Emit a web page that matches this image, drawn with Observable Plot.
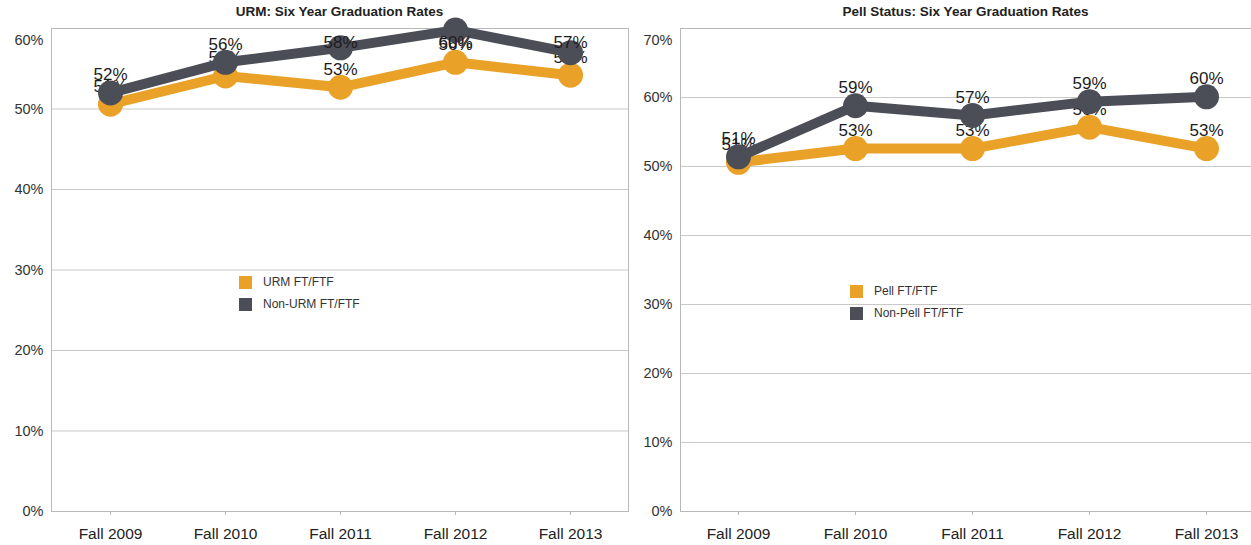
<!DOCTYPE html>
<html>
<head>
<meta charset="utf-8">
<script src="https://cdn.jsdelivr.net/npm/d3@7"></script>
<script src="https://cdn.jsdelivr.net/npm/@observablehq/plot@0.6"></script>
<style>
  html, body { margin: 0; padding: 0; background: #fff; }
  body { width: 1251px; height: 545px; overflow: hidden; position: relative; font-family: "Liberation Sans", Arial, Helvetica, sans-serif; }
  .panel { position: absolute; top: 0; }
  .title { position: absolute; top: 4px; font-weight: bold; font-size: 13.5px; color: #222; white-space: nowrap; transform: translateX(-50%); }
  .legend { position: absolute; font-size: 12px; color: #333; }
  .legend .item { display: flex; align-items: center; height: 22px; }
  .legend .sw { width: 13px; height: 13px; margin-right: 11px; flex: none; }
</style>
</head>
<body>
<script>
// ---------- data ----------
const years = ["Fall 2009", "Fall 2010", "Fall 2011", "Fall 2012", "Fall 2013"];

const urmTitle = "URM: Six Year Graduation Rates";
const urmNames = ["URM FT/FTF", "Non-URM FT/FTF"];
const urmValues = [50.6, 54.1, 52.7, 55.8, 54.2];
const nonUrmValues = [52.0, 55.8, 57.6, 59.8, 57.0];
const urmTicks = [0, 10, 20, 30, 40, 50, 60];

const pellTitle = "Pell Status: Six Year Graduation Rates";
const pellNames = ["Pell FT/FTF", "Non-Pell FT/FTF"];
const pellValues = [50.6, 52.6, 52.6, 55.7, 52.6];
const nonPellValues = [51.4, 58.8, 57.4, 59.4, 60.1];
const pellTicks = [0, 10, 20, 30, 40, 50, 60, 70];

const colors = ["#E9A128", "#4B4D57"];

// ---------- drawing ----------
const FONT = `"Liberation Sans", Arial, Helvetica, sans-serif`;

function rows(names, valueLists) {
  return names.map((name, s) => years.map((year, i) => ({series: name, idx: s, year, value: valueLists[s][i]})));
}

function panel(opts) {
  const {names, values, ticks, labelMax, left, width, marginLeft, marginRight, xPadding, xAlign, fullFrame, title, legendPos} = opts;
  const yMax = ticks[ticks.length - 1];
  const series = rows(names, values);
  const marks = [
    Plot.gridY(ticks, {stroke: "#c9c9c9", strokeOpacity: 1}),
  ];
  if (fullFrame) {
    marks.push(Plot.frame({stroke: "#b8b8b8"}));
  } else {
    marks.push(Plot.frame({anchor: "top", stroke: "#b8b8b8"}));
    marks.push(Plot.frame({anchor: "left", stroke: "#b8b8b8"}));
    marks.push(Plot.frame({anchor: "bottom", stroke: "#b8b8b8"}));
  }
  marks.push(
    Plot.axisY(ticks.slice(0, -1), {tickSize: 0, tickPadding: 8, tickFormat: d => d + "%", fill: "#333", fontSize: 14.5}),
    Plot.axisY([yMax], {tickSize: 0, tickPadding: 8, tickFormat: d => d + "%", fill: "#333", fontSize: 14.5, dy: 12}),
    Plot.axisX({tickSize: 4, tickPadding: 12, stroke: "#b8b8b8", fill: "#222", fontSize: 15.5})
  );
  series.forEach((data, s) => {
    marks.push(
      Plot.line(data, {x: "year", y: "value", stroke: colors[s], strokeWidth: 10, strokeLinejoin: "round"}),
      Plot.dot(data, {x: "year", y: "value", r: 12.5, fill: colors[s], stroke: "none"}),
      Plot.text(data, {x: "year", y: d => Math.min(d.value, labelMax), text: d => Math.round(d.value) + "%", dy: -18, fontSize: 17, fill: "#1c1c1c"})
    );
  });
  const chart = Plot.plot({
    width, height: 545,
    marginLeft, marginRight, marginTop: 28, marginBottom: 34,
    style: {fontFamily: FONT, background: "transparent", overflow: "visible"},
    x: {type: "point", domain: years, padding: xPadding, align: xAlign, label: null},
    y: {domain: [0, yMax], label: null},
    marks
  });
  const wrap = document.createElement("div");
  wrap.className = "panel";
  wrap.style.left = left + "px";
  wrap.style.width = width + "px";
  wrap.appendChild(chart);
  const t = document.createElement("div");
  t.className = "title";
  t.textContent = title;
  t.style.left = (marginLeft + (width - marginLeft - marginRight) / 2) + "px";
  wrap.appendChild(t);
  const lg = document.createElement("div");
  lg.className = "legend";
  lg.style.left = legendPos[0] + "px";
  lg.style.top = legendPos[1] + "px";
  names.forEach((n, s) => {
    const it = document.createElement("div");
    it.className = "item";
    const sw = document.createElement("span");
    sw.className = "sw";
    sw.style.background = colors[s];
    const tx = document.createElement("span");
    tx.textContent = n;
    it.appendChild(sw); it.appendChild(tx);
    lg.appendChild(it);
  });
  wrap.appendChild(lg);
  document.body.appendChild(wrap);
}

panel({
  names: urmNames, values: [urmValues, nonUrmValues], ticks: urmTicks, labelMax: 56,
  left: 0, width: 640, marginLeft: 51, marginRight: 12, xPadding: 0.5, xAlign: 0.5,
  fullFrame: true, title: urmTitle, legendPos: [239, 271]
});
panel({
  names: pellNames, values: [pellValues, nonPellValues], ticks: pellTicks, labelMax: 70,
  left: 640, width: 611, marginLeft: 40, marginRight: 0, xPadding: 0.44, xAlign: 0.563,
  fullFrame: false, title: pellTitle, legendPos: [210, 280]
});
</script>
</body>
</html>
